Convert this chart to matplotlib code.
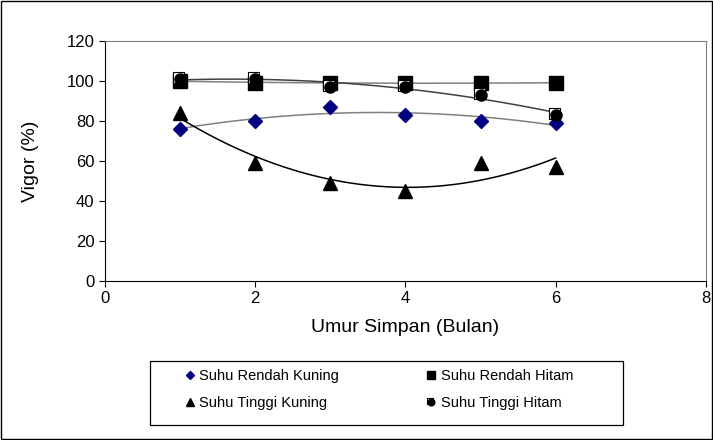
import matplotlib
matplotlib.use('Agg')
import matplotlib.pyplot as plt
from matplotlib.patches import Rectangle
from matplotlib.path import Path
import numpy as np

plt.rcParams['font.family'] = ['Liberation Sans', 'DejaVu Sans']

# data
umur = [1, 2, 3, 4, 5, 6]
rendah_kuning = [76, 80, 87, 83, 80, 79]
rendah_hitam = [100, 99, 99, 99, 99, 99]
tinggi_kuning = [84, 59, 49, 45, 59, 57]
tinggi_hitam = [101, 101, 97, 97, 93, 83]

x_ticks = [0, 2, 4, 6, 8]
y_ticks = [0, 20, 40, 60, 80, 100, 120]

fig = plt.figure(figsize=(7.13, 4.4), dpi=100)
ax = fig.add_axes([0.1473, 0.3614, 0.8427, 0.5456])

x = np.array(umur, dtype=float)
xs = np.linspace(x.min(), x.max(), 200)


def trend(values, color, lw=1.1):
    # excel style 2nd order polynomial trendline
    coef = np.polyfit(x, values, 2)
    ax.plot(xs, np.polyval(coef, xs), color=color, lw=lw, zorder=2)


trend(rendah_kuning, '#808080')
trend(rendah_hitam, '#808080')
trend(tinggi_kuning, 'black')
trend(tinggi_hitam, '#404040')

# open square shifted up-left, sits behind the filled circle
sq_path = Path([(-0.85, -0.45), (0.45, -0.45), (0.45, 0.85), (-0.85, 0.85), (-0.85, -0.45)],
               closed=True)

h_rk, = ax.plot(umur, rendah_kuning, 'D', color='#000080', ms=7.5, ls='none', zorder=3)
h_rh, = ax.plot(umur, rendah_hitam, 's', color='black', ms=9.5, ls='none', zorder=3)
h_tk, = ax.plot(umur, tinggi_kuning, '^', color='black', ms=9.5, ls='none', zorder=3)
h_th1, = ax.plot(umur, tinggi_hitam, marker=sq_path, mfc='white', mec='black', mew=0.8,
                 ms=10, ls='none', zorder=3)
h_th2, = ax.plot(umur, tinggi_hitam, 'o', color='black', ms=8, ls='none', zorder=4)

ax.set_xlim(0, 8)
ax.set_ylim(0, 120)
ax.set_xticks(x_ticks)
ax.set_yticks(y_ticks)
ax.tick_params(labelsize=12, direction='out', length=4, width=0.8, colors='black')
ax.set_xlabel('Umur Simpan (Bulan)', fontsize=14, labelpad=9)
ax.set_ylabel('Vigor (%)', fontsize=14, labelpad=20)

for side in ['top', 'right']:
    ax.spines[side].set_color('#808080')
for side in ['left', 'bottom']:
    ax.spines[side].set_color('black')

leg = fig.legend([h_rk, h_tk, h_rh, (h_th1, h_th2)],
                 ['Suhu Rendah Kuning', 'Suhu Tinggi Kuning',
                  'Suhu Rendah Hitam', 'Suhu Tinggi Hitam'],
                 ncol=2, loc='upper left', bbox_to_anchor=(0.257, 0.1615),
                 fontsize=10.5, markerscale=0.6, handlelength=0.9,
                 handletextpad=0.2, columnspacing=5.85, labelspacing=0.9,
                 frameon=False, borderpad=0, borderaxespad=0)

# legend box drawn separately so the text sits left of centre like the original
fig.patches.append(Rectangle((150 / 713, 1 - 425 / 440), 473 / 713, 64 / 440,
                             transform=fig.transFigure, fill=False,
                             edgecolor='black', lw=0.9))

# outer chart border
fig.patches.append(Rectangle((0.001, 0.002), 0.997, 0.996, transform=fig.transFigure,
                             fill=False, edgecolor='black', lw=1))

fig.savefig('out.png', dpi=100)
